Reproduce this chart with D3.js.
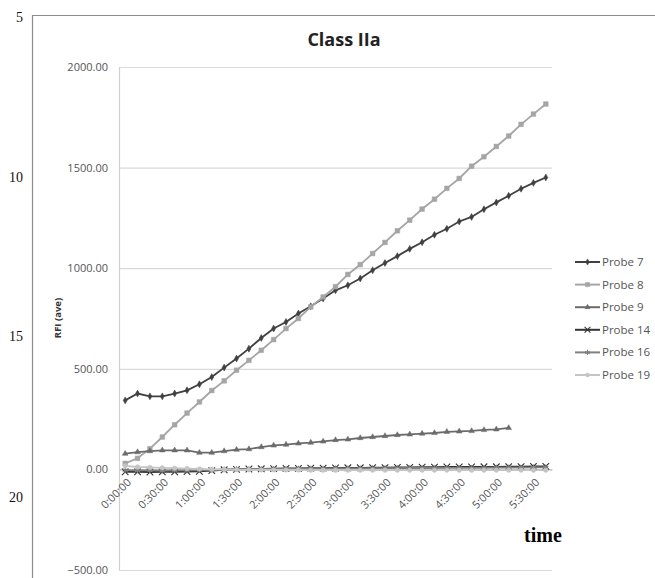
<!DOCTYPE html>
<html>
<head>
<meta charset="utf-8">
<script src="https://d3js.org/d3.v7.min.js"></script>
<style>
  body { margin: 0; background: #fff; }
  svg { display: block; }
</style>
</head>
<body>
<svg width="655" height="578"></svg>
<script>
// categories: readings every 10 min
const times = ["0:00:00","0:10:00","0:20:00","0:30:00","0:40:00","0:50:00","1:00:00","1:10:00","1:20:00",
  "1:30:00","1:40:00","1:50:00","2:00:00","2:10:00","2:20:00","2:30:00","2:40:00","2:50:00","3:00:00",
  "3:10:00","3:20:00","3:30:00","3:40:00","3:50:00","4:00:00","4:10:00","4:20:00","4:30:00","4:40:00",
  "4:50:00","5:00:00","5:10:00","5:20:00","5:30:00","5:40:00"];
const timeTicks = ["0:00:00","0:30:00","1:00:00","1:30:00","2:00:00","2:30:00","3:00:00","3:30:00",
  "4:00:00","4:30:00","5:00:00","5:30:00"];
const yTicks = [-500, 0, 500, 1000, 1500, 2000];

const probe7 = [343,377,363,363,377,393,423,459,506,551,600,653,700,733,775,811,849,890,915,949,990,
  1026,1060,1096,1129,1166,1196,1232,1255,1293,1327,1360,1395,1424,1451];
const probe8 = [30,55,103,161,222,280,335,392,440,493,542,592,645,700,750,808,857,908,969,1018,1073,
  1128,1186,1239,1294,1343,1397,1446,1507,1554,1605,1657,1715,1766,1816];
const probe9 = [78,86,91,95,95,95,83,83,91,98,101,111,119,123,129,133,139,146,149,156,161,166,171,174,
  178,181,187,189,191,196,199,206];
const probe14 = [-12,-12,-13,-12,-12,-11,-10,-6,-2,0,2,3,4,5,5,6,6,7,8,8,9,9,10,10,11,11,12,12,12,13,
  13,14,14,15,15];
const probe16 = [-4,-5,-5,-6,-5,-5,-4,-2,0,1,2,2,3,3,4,4,4,5,5,5,6,6,6,7,7,7,8,8,8,8,9,9,9,10,10];
const probe19 = [18,12,10,8,6,4,2,0,-1,-2,-2,-3,-3,-3,-3,-4,-4,-4,-4,-4,-4,-4,-4,-4,-4,-4,-4,-4,-4,
  -4,-4,-4,-4,-4,-4];

const series = [
  { name: "Probe 7", values: probe7, color: "#404040", sym: d3.symbolDiamond, size: 14, fill: true },
  { name: "Probe 8", values: probe8, color: "#a5a5a5", sym: d3.symbolSquare, size: 22, fill: true },
  { name: "Probe 9", values: probe9, color: "#6b6b6b", sym: d3.symbolTriangle, size: 14, fill: true },
  { name: "Probe 14", values: probe14, color: "#333333", sym: d3.symbolTimes || d3.symbolX, size: 30, fill: false },
  { name: "Probe 16", values: probe16, color: "#808080", sym: d3.symbolAsterisk, size: 22, fill: false },
  { name: "Probe 19", values: probe19, color: "#c4c4c4", sym: d3.symbolCircle, size: 16, fill: true }
];

const svg = d3.select("svg");
const font = "'Open Sans', 'Liberation Sans', sans-serif";

// page frame (document margin lines)
svg.append("line").attr("x1", 32).attr("x2", 655).attr("y1", 15.5).attr("y2", 15.5)
  .attr("stroke", "#8c8c8c").attr("stroke-width", 1.2);
svg.append("line").attr("x1", 32.5).attr("x2", 32.5).attr("y1", 15).attr("y2", 578)
  .attr("stroke", "#8c8c8c").attr("stroke-width", 1.2);

// line numbers in margin
[["5", 22], ["10", 182], ["15", 341], ["20", 502]].forEach(([t, y]) => {
  svg.append("text").attr("x", 23).attr("y", y).attr("text-anchor", "end")
    .style("font-family", "'Liberation Serif', 'Times New Roman', serif")
    .style("font-size", "14px").attr("fill", "#111").text(t);
});

const x = d3.scaleBand().domain(times).range([119, 552]);
const y = d3.scaleLinear().domain([-500, 2000]).range([570, 67]);
const cx = t => x(t) + x.bandwidth() / 2;

// gridlines + y axis
const gy = svg.append("g").attr("transform", "translate(119,0)")
  .call(d3.axisLeft(y).tickValues(yTicks).tickSize(-433).tickFormat(d3.format(".2f")));
gy.select(".domain").remove();
gy.selectAll(".tick line").attr("stroke", "#d9d9d9").attr("stroke-width", 1.2);
gy.selectAll(".tick text").attr("x", -11).attr("fill", "#555")
  .style("font-family", font).style("font-size", "11px");
svg.append("line").attr("x1", 119.5).attr("x2", 119.5).attr("y1", 67).attr("y2", 570)
  .attr("stroke", "#d0d0d0").attr("stroke-width", 1.2);

// x axis at zero
const gx = svg.append("g").attr("transform", `translate(0,${y(0)})`)
  .call(d3.axisBottom(x).tickValues(timeTicks).tickSize(0));
gx.select(".domain").attr("stroke", "#bdbdbd");
gx.selectAll(".tick text")
  .attr("fill", "#555").style("font-family", font).style("font-size", "11px")
  .attr("text-anchor", "end").attr("dy", "0.35em").attr("y", 0)
  .attr("transform", "translate(4,11) rotate(-45)");

// series lines and markers
const line = d3.line().x((d, i) => cx(times[i])).y(d => y(d));
series.forEach(s => {
  svg.append("path").datum(s.values).attr("d", line)
    .attr("fill", "none").attr("stroke", s.color).attr("stroke-width", 1.8);
  svg.append("g").selectAll("path").data(s.values).join("path")
    .attr("d", d3.symbol(s.sym, s.size))
    .attr("transform", (d, i) => `translate(${cx(times[i])},${y(d)})`)
    .attr("fill", s.fill ? s.color : "none")
    .attr("stroke", s.color).attr("stroke-width", s.fill ? 0.5 : 1.1);
});

// title
svg.append("text").attr("x", 344).attr("y", 46).attr("text-anchor", "middle")
  .style("font-family", font).style("font-weight", "bold").style("font-size", "18px")
  .attr("fill", "#222").text("Class IIa");

// y axis title
svg.append("text").attr("transform", "translate(61,318) rotate(-90)").attr("text-anchor", "middle")
  .style("font-family", font).style("font-weight", "bold").style("font-size", "9.5px")
  .attr("fill", "#333").text("RFI (ave)");

// x axis title
svg.append("text").attr("x", 543).attr("y", 542).attr("text-anchor", "middle")
  .style("font-family", "'Liberation Serif', 'Times New Roman', serif")
  .style("font-weight", "bold").style("font-size", "20px").attr("fill", "#000").text("time");

// legend
const lg = svg.append("g").selectAll("g").data(series).join("g")
  .attr("transform", (d, i) => `translate(575,${262 + i * 22.6})`);
lg.append("line").attr("x1", 0).attr("x2", 25).attr("stroke", d => d.color).attr("stroke-width", 2);
lg.append("path").attr("d", d => d3.symbol(d.sym, d.size * 0.8)())
  .attr("transform", "translate(12.5,0)")
  .attr("fill", d => d.fill ? d.color : "none").attr("stroke", d => d.color)
  .attr("stroke-width", d => d.fill ? 0.5 : 1.1);
lg.append("text").attr("x", 27).attr("dy", "0.35em").attr("fill", "#555")
  .style("font-family", font).style("font-size", "11.5px").text(d => d.name);
</script>
</body>
</html>
